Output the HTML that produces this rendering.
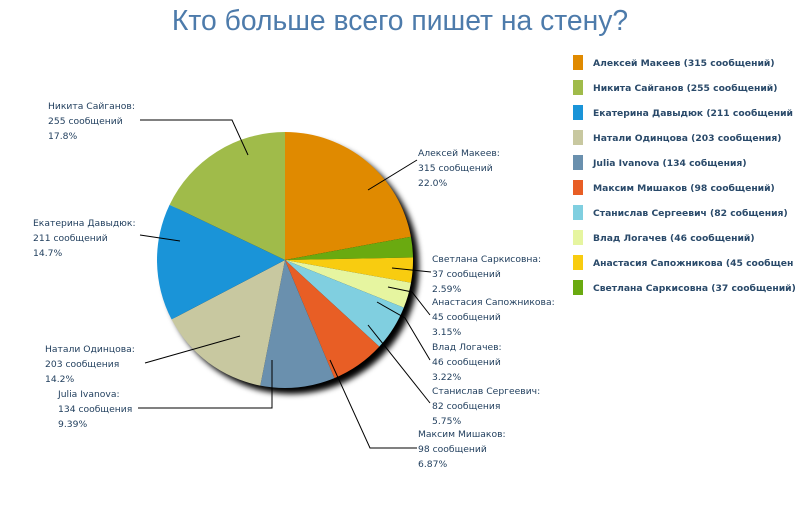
<!DOCTYPE html>
<html><head><meta charset="utf-8"><style>
body{margin:0;background:#fff;width:800px;height:520px;overflow:hidden}
text{font-family:Tahoma,"DejaVu Sans","Liberation Sans",sans-serif}
</style></head><body>
<svg width="800" height="520" xmlns="http://www.w3.org/2000/svg">
<defs><filter id="b" x="-20%" y="-20%" width="140%" height="140%"><feGaussianBlur stdDeviation="3"/></filter></defs>
<text x="400" y="30" text-anchor="middle" font-size="28.3" fill="#4d7bab" style="font-family:'Liberation Sans',sans-serif">Кто больше всего пишет на стену?</text>
<circle cx="291" cy="266" r="128" fill="#000" filter="url(#b)"/>
<g stroke="none">
<path d="M285,260 L285,132 A128,128 0 0 1 410.9,236.7Z" fill="#e08a00"/>
<path d="M285,260 L410.9,236.7 A128,128 0 0 1 413,257.5Z" fill="#6aaa10"/>
<path d="M285,260 L413,257.5 A128,128 0 0 1 411,282.7Z" fill="#f8cc10"/>
<path d="M285,260 L411,282.7 A128,128 0 0 1 403.8,307.6Z" fill="#e6f5a0"/>
<path d="M285,260 L403.8,307.6 A128,128 0 0 1 379.3,346.6Z" fill="#80cfe0"/>
<path d="M285,260 L379.3,346.6 A128,128 0 0 1 334.4,378.1Z" fill="#e85e25"/>
<path d="M285,260 L334.4,378.1 A128,128 0 0 1 260.3,385.6Z" fill="#6a90ae"/>
<path d="M285,260 L260.3,385.6 A128,128 0 0 1 171.6,319.4Z" fill="#c8c8a0"/>
<path d="M285,260 L171.6,319.4 A128,128 0 0 1 169.6,204.7Z" fill="#1a94d8"/>
<path d="M285,260 L169.6,204.7 A128,128 0 0 1 285,132Z" fill="#a0bb4a"/>
</g>
<g stroke="#000" stroke-width="1" fill="none">
<polyline points="368,190 417,160"/>
<polyline points="140,120 232,120 248,155"/>
<polyline points="140,235 180,241"/>
<polyline points="145,363 240,336"/>
<polyline points="138,408 272,408 272,360"/>
<polyline points="330,360 370,448 417,448"/>
<polyline points="392,268 431,272"/>
<polyline points="388,287 412,292 430,315"/>
<polyline points="377,302 405,318 430,360"/>
<polyline points="368,325 430,403"/>
</g>
<g font-size="9.2" fill="#1f3d5c">
<text x="48" y="109">Никита Сайганов:</text><text x="48" y="124">255 сообщений</text><text x="48" y="139">17.8%</text>
<text x="418" y="156">Алексей Макеев:</text><text x="418" y="171">315 сообщений</text><text x="418" y="186">22.0%</text>
<text x="33" y="226">Екатерина Давыдюк:</text><text x="33" y="241">211 сообщений</text><text x="33" y="256">14.7%</text>
<text x="45" y="352">Натали Одинцова:</text><text x="45" y="367">203 сообщения</text><text x="45" y="382">14.2%</text>
<text x="58" y="397">Julia Ivanova:</text><text x="58" y="412">134 сообщения</text><text x="58" y="427">9.39%</text>
<text x="432" y="262">Светлана Саркисовна:</text><text x="432" y="277">37 сообщений</text><text x="432" y="292">2.59%</text>
<text x="432" y="305">Анастасия Сапожникова:</text><text x="432" y="320">45 сообщений</text><text x="432" y="335">3.15%</text>
<text x="432" y="350">Влад Логачев:</text><text x="432" y="365">46 сообщений</text><text x="432" y="380">3.22%</text>
<text x="432" y="394">Станислав Сергеевич:</text><text x="432" y="409">82 сообщения</text><text x="432" y="424">5.75%</text>
<text x="418" y="437">Максим Мишаков:</text><text x="418" y="452">98 сообщений</text><text x="418" y="467">6.87%</text>
</g>
<g font-size="9.2" font-weight="bold" fill="#2a4a6a">
<rect x="573" y="55" width="10" height="15" fill="#e08a00"/><text x="593" y="66">Алексей Макеев (315 сообщений)</text>
<rect x="573" y="80" width="10" height="15" fill="#a0bb4a"/><text x="593" y="91">Никита Сайганов (255 сообщений)</text>
<rect x="573" y="105" width="10" height="15" fill="#1a94d8"/><text x="593" y="116">Екатерина Давыдюк (211 сообщений</text>
<rect x="573" y="130" width="10" height="15" fill="#c8c8a0"/><text x="593" y="141">Натали Одинцова (203 сообщения)</text>
<rect x="573" y="155" width="10" height="15" fill="#6a90ae"/><text x="593" y="166">Julia Ivanova (134 собщения)</text>
<rect x="573" y="180" width="10" height="15" fill="#e85e25"/><text x="593" y="191">Максим Мишаков (98 сообщений)</text>
<rect x="573" y="205" width="10" height="15" fill="#80cfe0"/><text x="593" y="216">Станислав Сергеевич (82 собщения)</text>
<rect x="573" y="230" width="10" height="15" fill="#e6f5a0"/><text x="593" y="241">Влад Логачев (46 сообщений)</text>
<rect x="573" y="255" width="10" height="15" fill="#f8cc10"/><text x="593" y="266">Анастасия Сапожникова (45 сообщен</text>
<rect x="573" y="280" width="10" height="15" fill="#6aaa10"/><text x="593" y="291">Светлана Саркисовна (37 сообщений)</text>
</g>
</svg>
</body></html>
